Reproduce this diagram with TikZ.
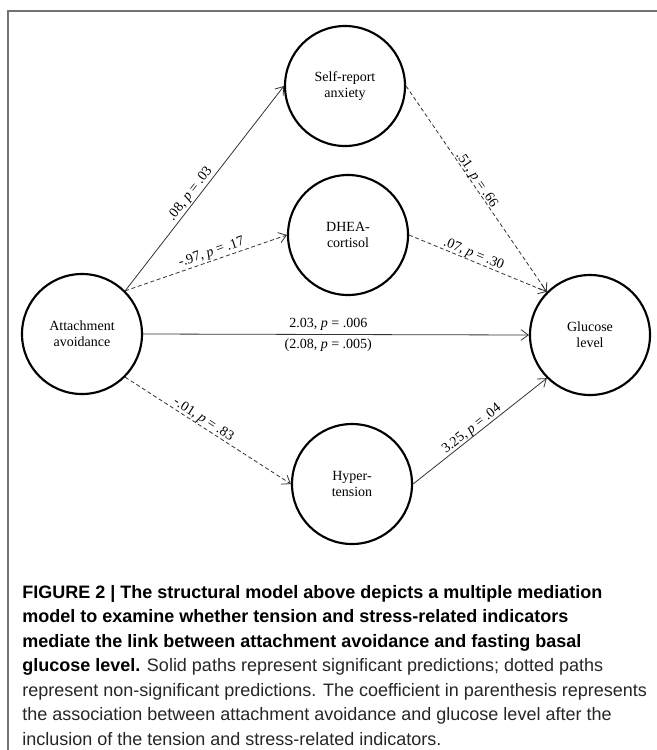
\documentclass[tikz,border=0pt]{standalone}
\usepackage{fontspec}
\setmainfont{Liberation Serif}
\newfontfamily\capfont{Liberation Sans}
\usetikzlibrary{arrows.meta}
\begin{document}
\begin{tikzpicture}[x=0.75pt,y=-0.75pt,
  var/.style={circle, draw=black, line width=1.6pt, minimum size=90pt, inner sep=0pt, align=center,
    font=\fontsize{10.5pt}{12pt}\selectfont},
  sigpath/.style={draw=black!80, line width=0.6pt, -{Straight Barb[length=5.5pt,width=8pt]}},
  nspath/.style={sigpath, dash pattern=on 3pt off 2pt},
  lab/.style={sloped, font=\fontsize{10.5pt}{12pt}\selectfont, inner sep=1pt},
  capb/.style={anchor=base west, inner sep=0pt, font=\capfont\bfseries\fontsize{13.5pt}{16pt}\selectfont},
  capr/.style={anchor=base west, inner sep=0pt, text=black!85, font=\capfont\fontsize{13.5pt}{16pt}\selectfont},
  frame/.style={draw=black!55, line width=1pt}
]
\useasboundingbox (0,0) rectangle (657,750);
% frame
\coordinate (fa) at (8,750);
\coordinate (fb) at (8,11);
\coordinate (fc) at (657,11);
\draw[frame] (fa) -- (fb) -- (fc);

% variables
\node[var] (att) at (82,334) {Attachment\\avoidance};
\node[var] (self) at (345,86) {Self-report\\anxiety};
\node[var] (dhea) at (348,235) {DHEA-\\cortisol};
\node[var] (hyp) at (352,484) {Hyper-\\tension};
\node[var] (glu) at (590,335) {Glucose\\level};

% paths
\draw[sigpath] (att.45) -- node[lab, pos=0.45, above] {.08, \textit{p} = .03} (self.west);
\draw[nspath] (att.45) -- node[lab, pos=0.55, above] {-.97, \textit{p} = .17} (dhea.west);
\draw[sigpath] (att.east) -- node[lab, pos=0.48, above=2pt] {2.03, \textit{p} = .006}
                              node[lab, pos=0.48, below=2pt] {(2.08, \textit{p} = .005)} (glu.west);
\draw[nspath] (att.-45) -- node[lab, pos=0.45, above=-1pt] {-.01, \textit{p} = .83} (hyp.west);
\draw[nspath] (self.east) -- node[lab, pos=0.47, above=-2pt] {.51, \textit{p} = .66} (glu.135);
\draw[nspath] (dhea.east) -- node[lab, pos=0.45, above=-1pt] {.07, \textit{p} = .30} (glu.135);
\draw[sigpath] (hyp.east) -- node[lab, pos=0.47, above=-1pt] {3.25, \textit{p} = .04} (glu.-135);

% caption
\node[capb] (c1) at (22,598) {FIGURE 2 | The structural model above depicts a multiple mediation};
\node[capb] (c2) at (22,622.5) {model to examine whether tension and stress-related indicators};
\node[capb] (c3) at (22,647) {mediate the link between attachment avoidance and fasting basal};
\node[capr] (c4) at (22,671.5) {\textcolor{black}{\bfseries glucose level.} Solid paths represent significant predictions; dotted paths};
\node[capr] (c5) at (22,696) {represent non-significant predictions. The coefficient in parenthesis represents};
\node[capr] (c6) at (22,720.5) {the association between attachment avoidance and glucose level after the};
\node[capr] (c7) at (22,745) {inclusion of the tension and stress-related indicators.};
\end{tikzpicture}
\end{document}
